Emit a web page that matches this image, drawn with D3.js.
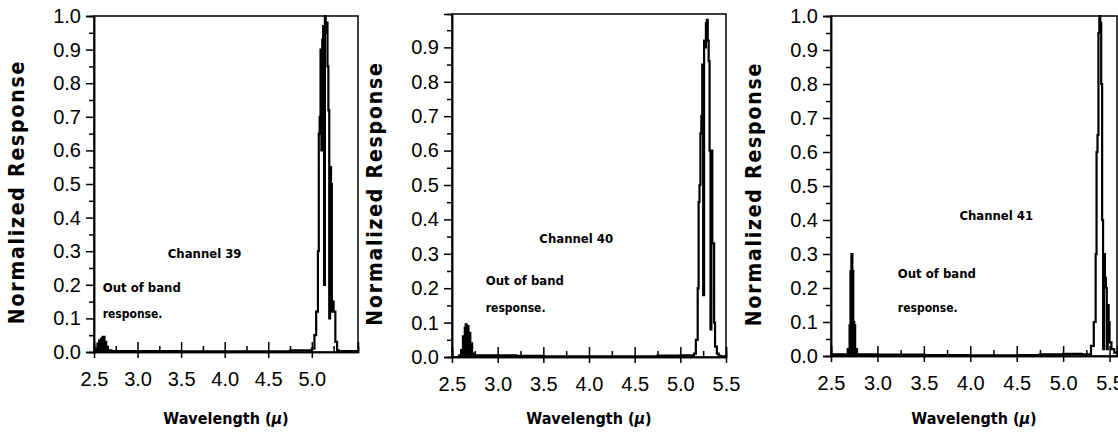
<!DOCTYPE html>
<html><head><meta charset="utf-8">
<script src="https://cdn.jsdelivr.net/npm/d3@7"></script>
<style>body{margin:0;background:#fff}svg{display:block}</style></head>
<body><svg id="c" width="1118" height="436"></svg>
<script>
const ch39Wave = [2.5,2.52,2.54,2.56,2.58,2.6,2.62,2.64,2.66,2.7,3.0,3.5,4.0,4.5,4.75,4.9,5.0,5.03,5.05,5.07,5.08,5.09,5.1,5.11,5.12,5.13,5.14,5.15,5.16,5.17,5.18,5.19,5.2,5.21,5.22,5.23,5.24,5.25,5.27,5.29,5.31,5.4,5.52];
const ch39Resp = [0,0.01,0.025,0.035,0.04,0.045,0.03,0.015,0.005,0.003,0.003,0.002,0.002,0.002,0.005,0.005,0.01,0.05,0.12,0.3,0.65,0.7,0.9,0.6,0.93,0.97,0.2,1.0,0.95,0.98,0.85,0.72,0.1,0.55,0.5,0.12,0.15,0.12,0.03,0.005,0.003,0.003,0.003];
const ch40Wave = [2.5,2.58,2.6,2.62,2.64,2.65,2.66,2.68,2.7,2.72,2.75,3.0,3.2,3.5,4.0,4.5,4.75,5.0,5.15,5.17,5.19,5.2,5.21,5.22,5.23,5.24,5.25,5.26,5.27,5.28,5.29,5.3,5.31,5.32,5.33,5.34,5.35,5.36,5.37,5.38,5.4,5.42,5.44,5.5];
const ch40Resp = [0,0.005,0.02,0.06,0.085,0.095,0.09,0.07,0.04,0.01,0.005,0.005,0.003,0.002,0.002,0.002,0.004,0.005,0.01,0.05,0.2,0.45,0.5,0.65,0.7,0.85,0.18,0.92,0.9,0.97,0.98,0.92,0.86,0.6,0.08,0.6,0.33,0.33,0.1,0.03,0.01,0.003,0.002,0.002];
const ch41Wave = [2.5,2.66,2.68,2.7,2.71,2.72,2.73,2.74,2.75,2.76,2.78,2.8,3.0,3.5,4.0,4.5,4.75,5.0,5.2,5.3,5.33,5.35,5.36,5.37,5.38,5.39,5.4,5.41,5.42,5.43,5.44,5.45,5.46,5.47,5.48,5.49,5.5,5.52,5.55,5.58];
const ch41Resp = [0.005,0.005,0.02,0.09,0.25,0.3,0.25,0.1,0.09,0.02,0.005,0.005,0.004,0.003,0.002,0.003,0.005,0.006,0.005,0.03,0.1,0.3,0.6,0.65,0.95,1.0,0.98,0.8,0.4,0.02,0.3,0.23,0.2,0.02,0.15,0.1,0.04,0.02,0.01,0.005];
const xTickLabels = ["2.5","3.0","3.5","4.0","4.5","5.0","5.5"];
const channelNames = ["Channel 39","Channel 40","Channel 41"];

const panels = [
 {w:ch39Wave,r:ch39Resp,name:channelNames[0],x0:94,x1:358,y0:352,y1:16,xmax:5.53,ymax:1.0,xt:[2.5,3,3.5,4,4.5,5],ch:[3.77,0.28],ob:[2.6,0.18,0.1]},
 {w:ch40Wave,r:ch40Resp,name:channelNames[1],x0:452,x1:726,y0:357,y1:14,xmax:5.5,ymax:0.997,xt:[2.5,3,3.5,4,4.5,5,5.5],ch:[3.86,0.33],ob:[2.87,0.21,0.13]},
 {w:ch41Wave,r:ch41Resp,name:channelNames[2],x0:831,x1:1117,y0:356,y1:16,xmax:5.58,ymax:1.0,xt:[2.5,3,3.5,4,4.5,5,5.5],ch:[4.28,0.4],ob:[3.22,0.23,0.13]}
];
const svg = d3.select("#c");
const tickFont = "Liberation Sans, Arial, sans-serif";
const boldFont = "DejaVu Sans Condensed, DejaVu Sans, sans-serif";
panels.forEach(p=>{
  const x = d3.scaleLinear().domain([2.5,p.xmax]).range([p.x0,p.x1]);
  const y = d3.scaleLinear().domain([0,p.ymax]).range([p.y0,p.y1]);
  const g = svg.append("g");
  const data = p.w.map((v,i)=>({x:v,y:p.r[i]}));
  const area = d3.area().x(d=>x(d.x)).y0(y(0)).y1(d=>y(d.y)).curve(d3.curveStepAfter);
  g.append("path").datum(data.filter(d=>d.x<3.3)).attr("d",area).attr("fill","#000");
  g.append("path").datum(data).attr("d",d3.line().x(d=>x(d.x)).y(d=>y(d.y)).curve(d3.curveStepAfter))
    .attr("fill","none").attr("stroke","#000").attr("stroke-width",2.2);
  g.append("rect").attr("x",p.x0).attr("y",p.y1).attr("width",p.x1-p.x0).attr("height",p.y0-p.y1)
    .attr("fill","none").attr("stroke","#000").attr("stroke-width",1.5);
  const ya = d3.axisLeft(y).tickValues(d3.range(0,p.ymax+0.001,0.1)).tickFormat(d3.format(".1f")).tickSize(8).tickPadding(5);
  const ym = d3.axisLeft(y).tickValues(d3.range(0.05,p.ymax,0.1)).tickFormat("").tickSize(5);
  const xa = d3.axisBottom(x).tickValues(p.xt).tickFormat(d3.format(".1f")).tickSize(-10).tickPadding(20);
  const xm = d3.axisBottom(x).tickValues(d3.range(2.75,p.xmax,0.5)).tickFormat("").tickSize(-6);
  [ [ya,`translate(${p.x0},0)`],[ym,`translate(${p.x0},0)`],[xa,`translate(0,${p.y0})`],[xm,`translate(0,${p.y0})`] ].forEach(([a,t])=>{
    const ag = g.append("g").attr("transform",t).call(a);
    ag.select(".domain").attr("stroke-width",1.5);
    ag.selectAll("line").attr("stroke-width",1.5);
    ag.selectAll("text").attr("font-family",tickFont).attr("font-size",20).attr("fill","#000");
  });
  g.append("g").attr("transform",`translate(0,${p.y0})`).call(d3.axisBottom(x).tickValues(p.xt).tickFormat("").tickSize(6))
    .call(s=>s.select(".domain").remove()).selectAll("line").attr("stroke-width",1.5);
  const xl = g.append("text").attr("x",(p.x0+p.x1)/2).attr("y",424).attr("text-anchor","middle")
    .attr("font-family",boldFont).attr("font-weight","bold").attr("font-size",16);
  xl.append("tspan").text("Wavelength (");
  xl.append("tspan").attr("font-style","italic").text("μ");
  xl.append("tspan").text(")");
  g.append("text").attr("transform",`translate(${p.x0-70},${(p.y0+p.y1)/2+8}) rotate(-90)`).attr("text-anchor","middle")
    .attr("font-family",boldFont).attr("font-weight","bold").attr("font-size",21).attr("letter-spacing",1.8).text("Normalized Response");
  g.append("text").attr("x",x(p.ch[0])).attr("y",y(p.ch[1])).attr("text-anchor","middle")
    .attr("font-family",boldFont).attr("font-weight","bold").attr("font-size",13).text(p.name);
  g.append("text").attr("x",x(p.ob[0])).attr("y",y(p.ob[1])).attr("font-family",boldFont).attr("font-weight","bold").attr("font-size",13).text("Out of band");
  g.append("text").attr("x",x(p.ob[0])).attr("y",y(p.ob[2])).attr("font-family",boldFont).attr("font-weight","bold").attr("font-size",12).text("response.");
});
</script></body></html>
